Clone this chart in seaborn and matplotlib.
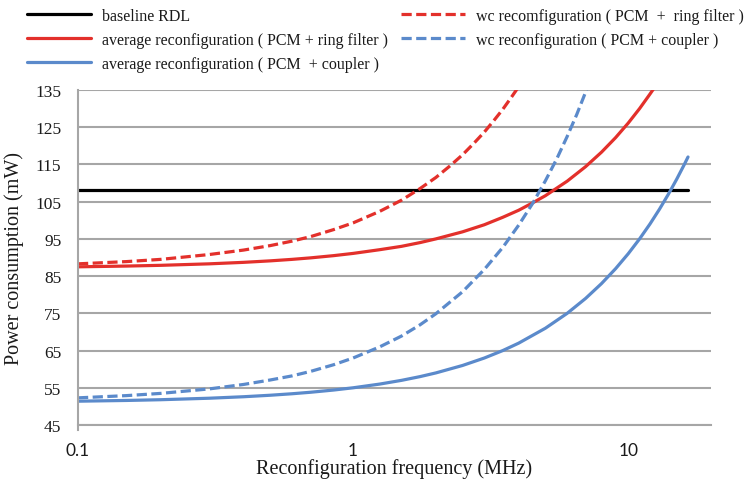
import pandas as pd
import seaborn as sns
import matplotlib.pyplot as plt

# Data
baseline_freq = [0.1, 16.5]
baseline_power = [108, 108]

avg_ring_freq = [0.1, 0.15, 0.2, 0.3, 0.4, 0.5, 0.6, 0.7, 0.85, 1, 1.25, 1.5, 1.75, 2, 2.5, 3, 3.5, 4, 4.5, 5, 6, 7, 8, 9, 10, 11, 12, 12.5]
avg_ring_power = [87.5, 87.7, 87.9, 88.3, 88.7, 89.1, 89.5, 89.9, 90.5, 91.1, 92.1, 93.0, 94.0, 95.0, 96.9, 98.8, 100.8, 102.7, 104.7, 106.6, 110.5, 114.4, 118.3, 122.2, 126.1, 130.0, 133.9, 135.8]

wc_ring_freq = [0.1, 0.15, 0.2, 0.3, 0.4, 0.5, 0.6, 0.7, 0.85, 1, 1.25, 1.5, 1.75, 2, 2.25, 2.5, 2.75, 3, 3.25, 3.5, 3.75, 4, 4.2]
wc_ring_power = [88.3, 88.9, 89.5, 90.8, 92.0, 93.2, 94.4, 95.6, 97.5, 99.3, 102.4, 105.4, 108.5, 111.5, 114.6, 117.6, 120.7, 123.7, 126.8, 129.8, 132.9, 135.9, 138.4]

avg_coupler_freq = [0.1, 0.15, 0.2, 0.3, 0.4, 0.5, 0.6, 0.7, 0.85, 1, 1.25, 1.5, 1.75, 2, 2.5, 3, 3.5, 4, 5, 6, 7, 8, 9, 10, 11, 12, 13, 14, 15, 16, 16.5]
avg_coupler_power = [51.4, 51.6, 51.8, 52.2, 52.6, 53.0, 53.4, 53.8, 54.4, 55.0, 56.0, 57.0, 58.0, 59.0, 61.0, 63.0, 65.0, 67.0, 71.0, 75.0, 79.0, 83.0, 87.0, 91.0, 95.0, 99.0, 103.0, 107.0, 111.0, 115.0, 117.0]

wc_coupler_freq = [0.1, 0.15, 0.2, 0.3, 0.4, 0.5, 0.6, 0.7, 0.85, 1, 1.25, 1.5, 1.75, 2, 2.5, 3, 3.5, 4, 4.5, 5, 5.5, 6, 6.5, 7, 7.2]
wc_coupler_power = [52.3, 52.9, 53.5, 54.7, 55.9, 57.1, 58.2, 59.4, 61.2, 63.0, 66.0, 68.9, 71.9, 74.9, 80.8, 86.8, 92.7, 98.7, 104.6, 110.6, 116.5, 122.5, 128.4, 134.4, 136.8]

labels = [
    'baseline RDL',
    'average reconfiguration ( PCM + ring filter )',
    'average reconfiguration ( PCM  + coupler )',
    'wc recomfiguration ( PCM  +  ring filter )',
    'wc reconfiguration ( PCM + coupler )',
]

RED = '#E3302B'
BLUE = '#5B8ACB'
GRID = '#A6A6A6'
TEXT = '#1a1a1a'

series = [
    (baseline_freq, baseline_power, 'black', '-'),
    (avg_ring_freq, avg_ring_power, RED, '-'),
    (avg_coupler_freq, avg_coupler_power, BLUE, '-'),
    (wc_ring_freq, wc_ring_power, RED, (0, (3.2, 1.4))),
    (wc_coupler_freq, wc_coupler_power, BLUE, (0, (3.2, 1.4))),
]

sns.set_style('white')
plt.rcParams['font.family'] = ['Liberation Serif', 'DejaVu Serif']

fig = plt.figure(figsize=(7.47, 4.85), dpi=100)
ax = fig.add_axes([0.1044, 0.1216, 0.8474, 0.6908])

for (f, p, color, ls), label in zip(series, labels):
    df = pd.DataFrame({'freq': f, 'power': p})
    sns.lineplot(data=df, x='freq', y='power', ax=ax, color=color,
                 linestyle=ls, linewidth=2.3, label=label, sort=False)

ax.set_xscale('log')
ax.set_xlim(0.1, 20)
ax.set_ylim(45, 135)
ax.set_yticks(range(45, 136, 10))
ax.set_xticks([0.1, 1, 10])
ax.set_xticklabels(['0.1', '1', '10'], family=['Lato', 'DejaVu Sans'], fontsize=12.5, color=TEXT)
ax.set_yticklabels([str(v) for v in range(45, 136, 10)], fontsize=12.5, color=TEXT)
ax.minorticks_off()

ax.yaxis.grid(True, color=GRID, linewidth=1.5)
ax.xaxis.grid(False)
ax.set_axisbelow(True)
for side in ['top', 'right']:
    ax.spines[side].set_visible(False)
ax.spines['left'].set_color(GRID)
ax.spines['left'].set_linewidth(1.5)
ax.spines['left'].set_bounds(43.7, 135)
ax.spines['bottom'].set_color(GRID)
ax.spines['bottom'].set_linewidth(1.5)
ax.tick_params(axis='x', direction='out', length=5, width=1.5, color=GRID, pad=7)
ax.tick_params(axis='y', length=0, pad=12)

ax.set_xlabel('Reconfiguration frequency (MHz)', fontsize=14.5, color=TEXT, labelpad=0)
ax.set_ylabel('Power consumption (mW)', fontsize=14.5, color=TEXT, labelpad=8)

leg = ax.legend(loc='upper left', bbox_to_anchor=(0.036, 0.982), bbox_transform=fig.transFigure,
                ncol=2, frameon=False, fontsize=11.5, handlelength=4.0, handletextpad=0.7,
                columnspacing=0.8, labelspacing=0.5, borderaxespad=0, borderpad=0)
for t in leg.get_texts():
    t.set_color(TEXT)

fig.savefig('out.png', dpi=100)
